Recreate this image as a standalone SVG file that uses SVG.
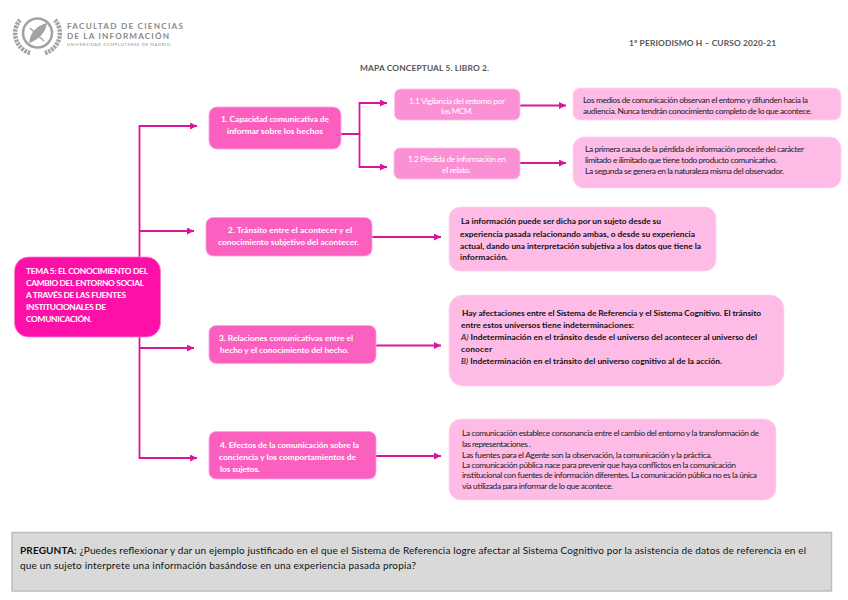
<svg xmlns="http://www.w3.org/2000/svg" width="848" height="600" viewBox="0 0 848 600">
<style>
text{font-family:"Lato","Open Sans","Liberation Sans",sans-serif;font-size:8.4px}
.w{fill:#fff;font-weight:700}
.wl{fill:#fff}
.k{fill:#222}
.b{fill:#111;font-weight:700}
.h{fill:#555;font-weight:700}
.c{fill:none;stroke:#D9169B;stroke-width:1.8}
.a{marker-end:url(#ah)}
.r0{fill:#FC10A8;stroke:#FD7FCB;stroke-width:.8}
.r1{fill:#FB60C0;stroke:#FDA5DB;stroke-width:.8}
.r2{fill:#FB90D5;stroke:#FDC0E6;stroke-width:.8}
.r3{fill:#FDBBE6;stroke:#FED6F0;stroke-width:.8}
.lg{fill:none;stroke:#a3a3a3}
.lt{font-weight:700;fill:#8a8a8a;font-size:8.2px}
</style>
<defs>
<marker id="ah" markerUnits="userSpaceOnUse" markerWidth="8" markerHeight="8" refX="7" refY="3.5" orient="auto"><path d="M0 0L7 3.5L0 7z" fill="#D9169B"/></marker>
</defs>
<rect width="848" height="600" fill="#fff"/>

<g id="logo">
<path class="lg" d="M30 53A20.500 20.500 0 0 1 20 20M45 53A20.500 20.500 0 0 0 55 20" stroke-width="4.500" stroke-dasharray="2.500 1"/>
<circle class="lg" cx="37.500" cy="33" r="14.500" stroke-width="2.500"/>
<path d="M29 43Q31 27 47 23Q45 37 29 43z" fill="#a3a3a3"/>
<path d="M30 28L44 41" stroke="#a3a3a3" stroke-width="1.500"/>
<text class="lt" x="67" y="28.500" textLength="116">FACULTAD DE CIENCIAS</text>
<text class="lt" x="67" y="38.500" textLength="102">DE LA INFORMACIÓN</text>
<text x="67" y="45.500" textLength="103" style="font-size:4px;fill:#8a8a8a">UNIVERSIDAD COMPLUTENSE DE MADRID</text>
</g>

<g id="header">
<text class="h" x="629" y="45.500" textLength="147">1º PERIODISMO H – CURSO 2020-21</text>
<text class="h" x="360" y="70.500" textLength="129">MAPA CONCEPTUAL 5. LIBRO 2.</text>
</g>

<g id="connectors">
<path class="c a" d="M139.500 257V126H197"/>
<path class="c a" d="M139.500 231H194"/>
<path class="c a" d="M139.500 337V458H197"/>
<path class="c a" d="M139.500 348H194"/>
<path class="c a" d="M341 134H359.500V103H387"/>
<path class="c a" d="M359.500 134V167H387"/>
<path class="c a" d="M520 105.500H566"/>
<path class="c a" d="M520 163H566"/>
<path class="c a" d="M372 237H441"/>
<path class="c a" d="M376 345.500H441"/>
<path class="c a" d="M376 456H441"/>
</g>

<g id="tema">
<rect class="r0" x="14.500" y="257" width="146" height="80" rx="14"/>
<text class="w" x="26" y="274" textLength="122">TEMA 5: EL CONOCIMIENTO DEL</text>
<text class="w" x="26" y="286" textLength="118">CAMBIO DEL ENTORNO SOCIAL</text>
<text class="w" x="26" y="298" textLength="100">A TRAVÉS DE LAS FUENTES</text>
<text class="w" x="26" y="310" textLength="80">INSTITUCIONALES DE</text>
<text class="w" x="26" y="321.500" textLength="66">COMUNICACIÓN.</text>
</g>

<g id="n1">
<rect class="r1" x="209" y="107" width="132" height="42" rx="8"/>
<text class="w" x="221" y="122" textLength="108">1. Capacidad comunicativa de</text>
<text class="w" x="227" y="134" textLength="96">informar sobre los hechos</text>
</g>
<g id="n11">
<rect class="r2" x="394.500" y="89" width="125.500" height="31" rx="6"/>
<text class="wl" x="409" y="103.500" textLength="96">1.1 Vigilancia del entorno por</text>
<text class="wl" x="441" y="113.500" textLength="32">los MCM.</text>
</g>
<g id="n12">
<rect class="r2" x="394" y="148" width="126" height="31" rx="6"/>
<text class="wl" x="408" y="161.500" textLength="98">1.2 Pérdida de información en</text>
<text class="wl" x="442" y="173" textLength="29">el relato.</text>
</g>
<g id="d11">
<rect class="r3" x="573" y="88" width="268" height="32" rx="7"/>
<text class="k" x="583" y="103" textLength="225">Los medios de comunicación observan el entorno y difunden hacia la</text>
<text class="k" x="583" y="113.500" textLength="229">audiencia. Nunca tendrán conocimiento completo de lo que acontece.</text>
</g>
<g id="d12">
<rect class="r3" x="573" y="137" width="268" height="51" rx="11"/>
<text class="k" x="585" y="152" textLength="219">La primera causa de la pérdida de información procede del carácter</text>
<text class="k" x="585" y="163" textLength="192">limitado e ilimitado que tiene todo producto comunicativo.</text>
<text class="k" x="585" y="174" textLength="199">La segunda se genera en la naturaleza misma del observador.</text>
</g>
<g id="n2">
<rect class="r1" x="206" y="217.500" width="166" height="38.500" rx="7"/>
<text class="w" x="228" y="233" textLength="124">2. Tránsito entre el acontecer y el</text>
<text class="w" x="218" y="245" textLength="141">conocimiento subjetivo del acontecer.</text>
</g>
<g id="d2">
<rect class="r3" x="449" y="207" width="267" height="64" rx="11"/>
<text class="b" x="461" y="224" textLength="200">La información puede ser dicha por un sujeto desde su</text>
<text class="b" x="460" y="236.500" textLength="235">experiencia pasada relacionando ambas, o desde su experiencia</text>
<text class="b" x="460" y="248.500" textLength="241">actual, dando una interpretación subjetiva a los datos que tiene la</text>
<text class="b" x="460" y="260" textLength="48">información.</text>
</g>
<g id="n3">
<rect class="r1" x="209" y="325.500" width="167" height="38" rx="7"/>
<text class="w" x="219" y="341" textLength="134">3. Relaciones comunicativas entre el</text>
<text class="w" x="220" y="353" textLength="129">hecho y el conocimiento del hecho.</text>
</g>
<g id="d3">
<rect class="r3" x="449" y="295" width="335" height="91" rx="14"/>
<text class="b" x="462" y="315.500" textLength="299">Hay afectaciones entre el Sistema de Referencia y el Sistema Cognitivo. El tránsito</text>
<text class="b" x="461" y="327.500" textLength="173">entre estos universos tiene indeterminaciones:</text>
<text class="b" x="461" y="340" textLength="296"><tspan font-style="italic" font-weight="400">A)</tspan> Indeterminación en el tránsito desde el universo del acontecer al universo del</text>
<text class="b" x="461" y="352" textLength="31">conocer</text>
<text class="b" x="461" y="364" textLength="261"><tspan font-style="italic" font-weight="400">B)</tspan> Indeterminación en el tránsito del universo cognitivo al de la acción.</text>
</g>
<g id="n4">
<rect class="r1" x="209" y="431.500" width="167" height="47.500" rx="7"/>
<text class="w" x="220" y="447.500" textLength="139">4. Efectos de la comunicación sobre la</text>
<text class="w" x="219" y="459.500" textLength="137">conciencia y los comportamientos de</text>
<text class="w" x="220" y="472" textLength="40">los sujetos.</text>
</g>
<g id="d4">
<rect class="r3" x="449" y="419" width="327" height="81" rx="12"/>
<text class="k" x="462" y="435.500" textLength="297">La comunicación establece consonancia entre el cambio del entorno y la transformación de</text>
<text class="k" x="462" y="446.500" textLength="69">las representaciones .</text>
<text class="k" x="462" y="457.500" textLength="250">Las fuentes para el Agente son la observación, la comunicación y la práctica.</text>
<text class="k" x="462" y="467.500" textLength="274">La comunicación pública nace para prevenir que haya conflictos en la comunicación</text>
<text class="k" x="462" y="478" textLength="295">institucional con fuentes de información diferentes. La comunicación pública no es la única</text>
<text class="k" x="462" y="489" textLength="151">vía utilizada para informar de lo que acontece.</text>
</g>

<g id="pregunta">
<rect x="12" y="532.500" width="819.500" height="58.500" fill="#D9D9D9" stroke="#BDBDBD" stroke-width="1.500"/>
<text x="20" y="553.500" textLength="786" style="font-size:10px;fill:#111"><tspan font-weight="700">PREGUNTA:</tspan> ¿Puedes reflexionar y dar un ejemplo justificado en el que el Sistema de Referencia logre afectar al Sistema Cognitivo por la asistencia de datos de referencia en el</text>
<text x="20" y="569" textLength="396" style="font-size:10px;fill:#111">que un sujeto interprete una información basándose en una experiencia pasada propia?</text>
</g>
</svg>
